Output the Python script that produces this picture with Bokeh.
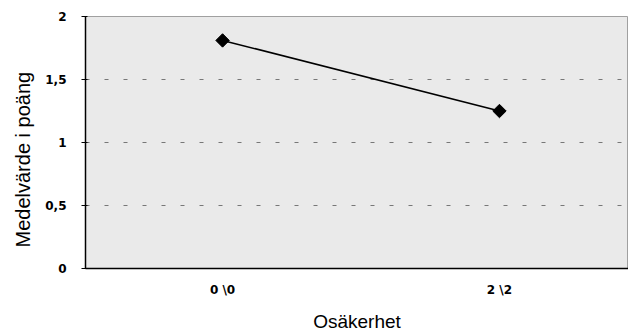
import math
from bokeh.plotting import figure
from bokeh.models import FixedTicker, Range1d, ColumnDataSource, Title
from bokeh.embed import file_html
from bokeh.resources import INLINE

categories = ["0 \\0", "2 \\2"]
values = [1.81, 1.25]
y_ticks = [0, 0.5, 1, 1.5, 2]
y_tick_labels = ["0", "0,5", "1", "1,5", "2"]
x_title = "Osäkerhet"
y_title = "Medelvärde i poäng"

xs = list(range(len(categories)))
src = ColumnDataSource(dict(x=xs, y=values))

p = figure(width=628, height=334, output_backend="svg", toolbar_location=None,
           x_range=Range1d(-0.495, 1.466), y_range=Range1d(0, 2),
           min_border_left=85, min_border_right=0, min_border_top=16, min_border_bottom=65)
p.background_fill_color = "#EAEAEA"
p.border_fill_color = "white"
p.outline_line_color = "#A0A0A0"
p.outline_line_width = 1

p.line("x", "y", source=src, line_color="black", line_width=1.6)
p.scatter("x", "y", source=src, marker="square", angle=math.pi / 4, size=9.5,
          fill_color="black", line_color="black")

p.xgrid.visible = False
p.ygrid.ticker = FixedTicker(ticks=[0.5, 1, 1.5])
p.ygrid.grid_line_color = "#777777"
p.ygrid.grid_line_dash = "4 15"
p.ygrid.grid_line_width = 1

p.yaxis.ticker = FixedTicker(ticks=y_ticks)
p.yaxis.major_label_overrides = {t: l for t, l in zip(y_ticks, y_tick_labels)}
p.xaxis.ticker = FixedTicker(ticks=xs)
p.xaxis.major_label_overrides = {i: c for i, c in zip(xs, categories)}

for ax in (p.xaxis, p.yaxis):
    ax.axis_line_color = "black"
    ax.axis_line_width = 1.5
    ax.minor_tick_line_color = None
    ax.major_label_text_font = "DejaVu Sans"
    ax.major_label_text_font_style = "bold"
    ax.major_label_text_font_size = "12px"
    ax.major_label_text_color = "black"
    ax.axis_label_text_font = "Liberation Sans"
    ax.axis_label_text_font_style = "normal"
    ax.axis_label_text_color = "black"

p.xaxis.major_tick_line_color = None
p.xaxis.major_label_standoff = 8
p.xaxis.axis_label = x_title
p.xaxis.axis_label_text_font_size = "19px"
p.xaxis.axis_label_standoff = 11

p.yaxis.major_tick_in = 2
p.yaxis.major_tick_out = 4
p.yaxis.major_tick_line_color = "black"
p.yaxis.major_label_standoff = 15

p.add_layout(Title(text=y_title, align="left", offset=21, standoff=18,
                   text_font="Liberation Sans", text_font_size="20px",
                   text_font_style="normal", text_color="black"), "left")

open("out.html", "w").write(file_html(p, INLINE))
